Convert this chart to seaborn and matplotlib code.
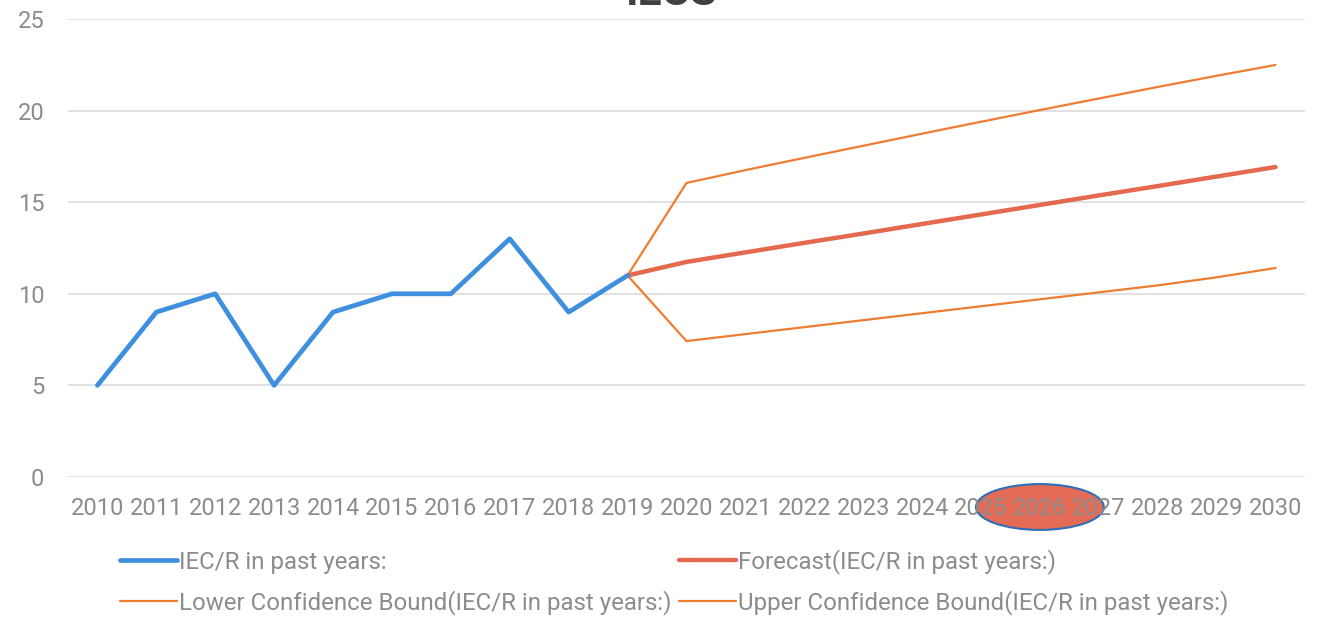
import seaborn as sns
import matplotlib.pyplot as plt
import matplotlib.transforms as mtransforms
from matplotlib.patches import Ellipse
from matplotlib.lines import Line2D

# data
past_years = [2010, 2011, 2012, 2013, 2014, 2015, 2016, 2017, 2018, 2019]
past_vals = [5, 9, 10, 5, 9, 10, 10, 13, 9, 11]

fc_years = [2019, 2020, 2021, 2022, 2023, 2024, 2025, 2026, 2027, 2028, 2029, 2030]
forecast = [11, 11.74, 12.26, 12.78, 13.29, 13.81, 14.33, 14.85, 15.37, 15.88, 16.40, 16.92]
lower = [11, 7.42, 7.80, 8.18, 8.56, 8.94, 9.32, 9.70, 10.08, 10.46, 10.90, 11.41]
upper = [11, 16.05, 16.75, 17.42, 18.08, 18.74, 19.39, 20.03, 20.66, 21.29, 21.90, 22.49]

all_years = list(range(2010, 2031))
title = "IECS"
lbl_past = "IEC/R in past years:"
lbl_fc = "Forecast(IEC/R in past years:)"
lbl_lo = "Lower Confidence Bound(IEC/R in past years:)"
lbl_up = "Upper Confidence Bound(IEC/R in past years:)"

sns.set_style("white")
plt.rcParams['font.family'] = ['Roboto', 'DejaVu Sans']

blue = '#3f8fdf'
red = '#e5694f'
orange = '#ed7d31'
grey = '#8c8c8c'

fig = plt.figure(figsize=(13.27, 6.17), dpi=100)
ax = fig.add_axes([0.0512, 0.2269, 0.9322, 0.7423])

sns.lineplot(x=fc_years, y=lower, ax=ax, color=orange, lw=1.6, zorder=3)
sns.lineplot(x=fc_years, y=upper, ax=ax, color=orange, lw=1.6, zorder=3)
sns.lineplot(x=fc_years, y=forecast, ax=ax, color=red, lw=3.2, zorder=4,
             solid_capstyle='round')
sns.lineplot(x=past_years, y=past_vals, ax=ax, color=blue, lw=3.4, zorder=5,
             solid_capstyle='round')

ax.set_xlim(2009.5, 2030.5)
ax.set_ylim(0, 25)
ax.set_xticks(all_years)
ax.set_xticklabels([str(y) for y in all_years])
ax.set_yticks([0, 5, 10, 15, 20, 25])
ax.grid(axis='y', color='#d9d9d9', lw=1.1)
ax.grid(axis='x', visible=False)
for s in ax.spines.values():
    s.set_visible(False)
ax.tick_params(axis='x', length=0, pad=14.2, labelsize=17, labelcolor=grey)
ax.tick_params(axis='y', length=0, pad=17, labelsize=17, labelcolor=grey)
ax.set_xlabel('')
ax.set_ylabel('')

# highlight ellipse behind the 2026 tick label
trans = mtransforms.blended_transform_factory(ax.transData, ax.transAxes)
ell = Ellipse((2026, -0.0655), width=2.17, height=0.1, transform=trans,
              facecolor='#e46b55', edgecolor='#2f6eb5', lw=1.5,
              clip_on=False, zorder=0.2)
ax.add_patch(ell)

fig.text(0.506, 0.992, title, ha='center', va='baseline', fontsize=31,
         fontweight='bold', color='#404040')

handles = [Line2D([], [], color=blue, lw=3.4, solid_capstyle='round'),
           Line2D([], [], color=orange, lw=1.6),
           Line2D([], [], color=red, lw=3.2, solid_capstyle='round'),
           Line2D([], [], color=orange, lw=1.6)]
labels = [lbl_past, lbl_lo, lbl_fc, lbl_up]
leg = fig.legend(handles, labels, loc='upper left', bbox_to_anchor=(0.0905, 0.11),
                 ncol=2, frameon=False, fontsize=17.3, handlelength=2.35,
                 handletextpad=0.12, columnspacing=0.3, labelspacing=0.68,
                 borderpad=0, borderaxespad=0)
for t in leg.get_texts():
    t.set_color(grey)

fig.savefig('out.png', dpi=100)
